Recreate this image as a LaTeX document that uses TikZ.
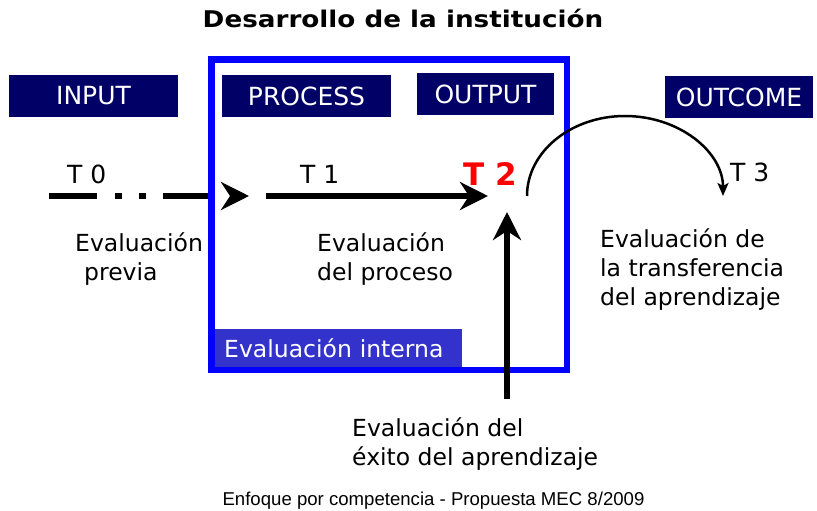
\documentclass[tikz,border=0pt]{standalone}
\usepackage{fontspec}
\setmainfont{DejaVu Sans}
\newfontfamily\footfont{Liberation Sans}
\usetikzlibrary{arrows.meta}
\definecolor{navybox}{HTML}{000066}
\definecolor{internblue}{HTML}{3333CC}
\definecolor{frameblue}{HTML}{0000FF}

\tikzset{
	stage/.style={fill=navybox,text=white,minimum height=42pt,inner sep=0pt,font=\fontsize{25}{30}\selectfont},
	tlabel/.style={anchor=base west,inner sep=0pt,font=\fontsize{25}{30}\selectfont},
	evaltext/.style={anchor=base west,inner sep=0pt,align=left,font=\fontsize{23.5}{29}\selectfont},
	framebox/.style={draw=frameblue,line width=6.5pt},
	thick arrow/.style={line width=6pt,-{Stealth[length=28pt,width=28pt,inset=9pt]}},
	thin arrow/.style={line width=2.5pt,-{Stealth[length=13pt,width=11pt,inset=3pt]}}
}

\begin{document}
\begin{tikzpicture}[x=1pt,y=-1pt]
	\useasboundingbox (0,0) rectangle (817,511);
	\node[anchor=base,inner sep=0pt,font=\fontsize{23}{28}\selectfont\bfseries] (title) at (403,28) {\scalebox{1.14}[1]{Desarrollo de la institución}};

	\node[stage,minimum width=169pt] (input) at (93.5,96) {INPUT};
	\node[stage,minimum width=169pt] (process) at (306.5,96) {PROCESS};
	\node[stage,minimum width=137pt] (output) at (485.5,94) {OUTPUT};
	\node[stage,minimum width=148pt] (outcome) at (739,97) {OUTCOME};

	\node[fill=internblue,text=white,anchor=west,minimum height=38pt,inner xsep=11pt,inner ysep=0pt,text width=227pt,align=left,font=\fontsize{23.5}{29}\selectfont] (interna) at (213,348) {Evaluación interna};
	\draw[framebox] (211.5,59.5) rectangle (567,370);

	\node[tlabel] (tzero) at (67,183) {T 0};
	\node[tlabel] (tone) at (300,183) {T 1};
	\node[tlabel,text=red,font=\fontsize{31}{36}\selectfont\bfseries] (ttwo) at (463,185) {T 2};
	\node[tlabel] (tthree) at (730,181) {T 3};

	% base anchor sits on the last line
	\node[evaltext] (previa) at (75,280) {Evaluación\\\hspace*{9pt}previa};
	\node[evaltext] (proceso) at (317,280) {Evaluación\\del proceso};
	\node[evaltext] (transfer) at (600,305) {Evaluación de\\la transferencia\\del aprendizaje};
	\node[evaltext] (exito) at (352,465) {Evaluación del\\éxito del aprendizaje};

	% time line
	\coordinate (dashstart) at (49,196);
	\coordinate (dashend) at (249,196);
	\draw[thick arrow,dash pattern=on 48pt off 18pt on 7pt off 17pt on 7pt off 17pt on 45pt off 200pt] (dashstart) -- (dashend);
	\coordinate (procstart) at (266,196);
	\coordinate (procend) at (488,196);
	\draw[thick arrow] (procstart) -- (procend);
	\coordinate (succstart) at (507,399);
	\coordinate (succend) at (507,212);
	\draw[thick arrow] (succstart) -- (succend);
	\coordinate (arcstart) at (527,196);
	\draw[thin arrow] (arcstart) arc[start angle=180,end angle=360,x radius=98,y radius=80];

	\node[anchor=base,inner sep=0pt,font=\footfont\fontsize{18.6}{22}\selectfont] (footer) at (433.5,505) {Enfoque por competencia - Propuesta MEC 8/2009};
\end{tikzpicture}
\end{document}
